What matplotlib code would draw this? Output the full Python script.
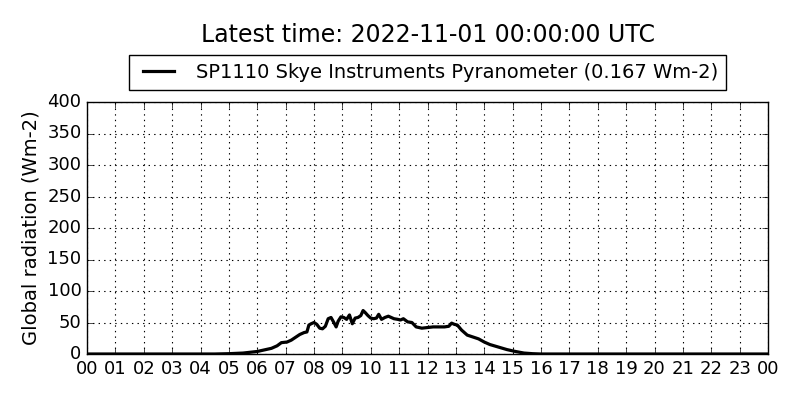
import matplotlib
matplotlib.use("Agg")
import matplotlib.pyplot as plt
import numpy as np

plt.style.use("classic")

hours = [0, 4.5, 5.0, 5.5, 6.0, 6.3, 6.5, 6.7, 6.85, 7.05, 7.2, 7.3, 7.5, 7.65, 7.75, 7.82, 7.9, 8.0, 8.1, 8.2, 8.3, 8.4,
         8.5, 8.6, 8.7, 8.78, 8.85, 8.95, 9.05, 9.15, 9.25, 9.35, 9.45, 9.55, 9.65, 9.73, 9.8, 9.9, 10.0,
         10.1, 10.2, 10.28, 10.38, 10.5, 10.62, 10.72, 10.82, 10.95, 11.05, 11.15, 11.3, 11.45, 11.6,
         11.8, 12.0, 12.2, 12.4, 12.6, 12.75, 12.85, 12.95, 13.05, 13.2, 13.4, 13.6, 13.8, 14.0, 14.2,
         14.5, 14.8, 15.1, 15.4, 15.7, 16.0, 24.0]
radiation = [0, 0, 0.5, 1.5, 4, 7, 9, 13, 18, 19, 22, 25, 31, 34, 35, 46, 48, 50, 47, 41, 40, 44,
             56, 58, 50, 43, 52, 59, 58, 55, 62, 48, 57, 58, 61, 69, 66, 61, 57,
             56, 57, 63, 55, 58, 60, 58, 56, 55, 54, 56, 51, 50, 43,
             41, 42, 43, 43, 43, 44, 49, 47, 46, 38, 30, 27, 24, 19, 15,
             11, 7, 4, 1.5, 0.5, 0, 0]

tick_labels = ["%02d" % h for h in range(24)] + ["00"]

fig = plt.figure(figsize=(8, 4), dpi=100)
fig.patch.set_facecolor("white")
ax = fig.add_axes([0.10875, 0.115, 0.85125, 0.63])
ax.plot(hours, radiation, color="black", linewidth=2.3,
        label="SP1110 Skye Instruments Pyranometer (0.167 Wm-2)")
ax.set_xlim(0, 24)
ax.set_ylim(0, 400)
ax.set_xticks(range(25))
ax.set_xticklabels(tick_labels)
ax.set_yticks(range(0, 401, 50))
ax.tick_params(labelsize=13)
ax.grid(True, color="black", linestyle=":", linewidth=0.8)
ax.set_ylabel("Global radiation (Wm-2)", fontsize=14)
fig.text(0.535, 0.912, "Latest time: 2022-11-01 00:00:00 UTC", ha="center", va="center", fontsize=17)
leg = ax.legend(loc="lower center", bbox_to_anchor=(0.5, 1.048), fontsize=14, frameon=True,
                fancybox=False, borderaxespad=0, handlelength=2.2)
leg.get_frame().set_linewidth(1)
fig.savefig("out.png", dpi=100, facecolor="white")
